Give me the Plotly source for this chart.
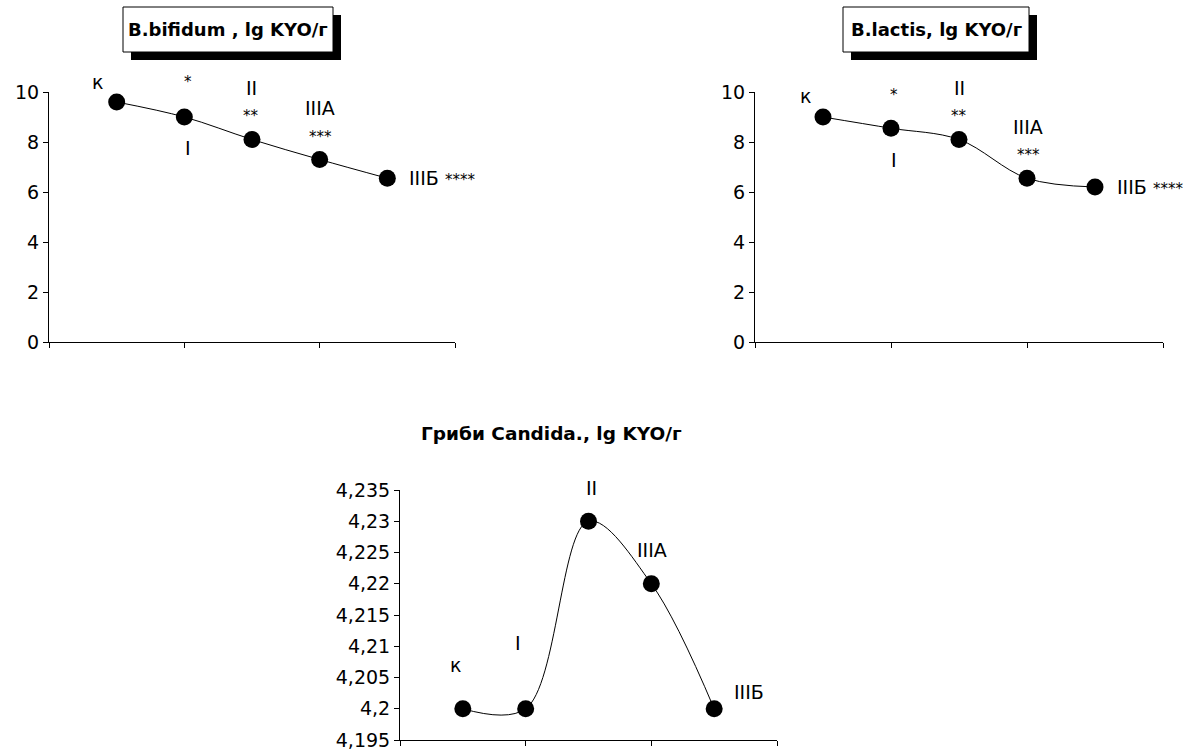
import plotly.graph_objects as go

W, H = 1188, 751

# ---- data ----
x_pos = [0.5, 1.0, 1.5, 2.0, 2.5]
groups = ["к", "I", "II", "IIIА", "IIIБ"]
bifidum = [9.6, 9.0, 8.1, 7.3, 6.55]
lactis = [9.0, 8.55, 8.1, 6.55, 6.2]
candida = [4.2, 4.2, 4.23, 4.22, 4.2]
y_ticks_b = [0, 2, 4, 6, 8, 10]
y_ticks_c = [4.195, 4.2, 4.205, 4.21, 4.215, 4.22, 4.225, 4.23, 4.235]
y_text_c = ["4,195", "4,2", "4,205", "4,21", "4,215", "4,22", "4,225", "4,23", "4,235"]

FONT = "DejaVu Sans, Arial, sans-serif"


def px(x):
    return x / W


def py(y):
    return 1 - y / H


fig = go.Figure()
for i, (vals, xa, ya) in enumerate([(bifidum, "x", "y"), (lactis, "x2", "y2"), (candida, "x3", "y3")]):
    fig.add_trace(go.Scatter(
        x=x_pos, y=vals, xaxis=xa, yaxis=ya, mode="lines+markers",
        line=dict(color="black", width=1, shape="spline", smoothing=1),
        marker=dict(color="black", size=17), cliponaxis=False, showlegend=False))

ax_common = dict(range=[0, 3], tickvals=[0, 1, 2, 3], showticklabels=False, ticks="outside",
                 ticklen=5, tickcolor="black", showline=True, linecolor="black", linewidth=1,
                 showgrid=False, zeroline=False, fixedrange=True, automargin=False)
ay_common = dict(ticks="outside", ticklen=5, tickcolor="black", showline=True, linecolor="black",
                 linewidth=1, showgrid=False, zeroline=False, automargin=False,
                 tickfont=dict(family=FONT, size=19, color="black"))

fig.update_layout(
    width=W, height=H, autosize=False, margin=dict(l=0, r=0, t=0, b=0, pad=0),
    paper_bgcolor="white", plot_bgcolor="white", showlegend=False,
    font=dict(family=FONT, color="black"),
    xaxis=dict(domain=[px(49), px(455)], anchor="y", **ax_common),
    yaxis=dict(domain=[py(342), py(92)], anchor="x", range=[0, 10], tickvals=y_ticks_b, **ay_common),
    xaxis2=dict(domain=[px(755), px(1163)], anchor="y2", **ax_common),
    yaxis2=dict(domain=[py(342), py(92)], anchor="x2", range=[0, 10], tickvals=y_ticks_b, **ay_common),
    xaxis3=dict(domain=[px(400), px(777)], anchor="y3", **ax_common),
    yaxis3=dict(domain=[py(740), py(490)], anchor="x3", range=[4.195, 4.235], tickvals=y_ticks_c,
                ticktext=y_text_c, **ay_common),
)

# title boxes with shadow
shapes = []
for (x0, y0, x1, y1) in [(123, 7, 333, 52), (843, 7, 1029, 52)]:
    shapes.append(dict(type="rect", xref="paper", yref="paper", x0=px(x0 + 8), x1=px(x1 + 8),
                       y0=py(y0 + 8), y1=py(y1 + 8), fillcolor="black", line=dict(width=0)))
    shapes.append(dict(type="rect", xref="paper", yref="paper", x0=px(x0), x1=px(x1),
                       y0=py(y0), y1=py(y1), fillcolor="white", line=dict(color="black", width=1)))
fig.update_layout(shapes=shapes)

ann = []


def label(text, x, y, size=19, bold=False, xanchor="center"):
    ann.append(dict(text=("<b>%s</b>" % text) if bold else text, x=px(x), y=py(y), xref="paper",
                    yref="paper", showarrow=False, xanchor=xanchor, yanchor="middle",
                    font=dict(family=FONT, size=size, color="black")))


label("B.bifidum , lg KYO/г", 228, 30, size=18, bold=True)
label("B.lactis, lg KYO/г", 936, 30, size=18, bold=True)
label("Гриби Candida., lg KYO/г", 551, 433, size=18.5, bold=True)

STARS4 = " <span style='font-size:15px'>****</span>"

# chart 1 labels
label(groups[0], 97, 82)
label("*", 188, 82, size=15)
label(groups[1], 188, 148)
label(groups[2], 251, 88)
label("**", 251, 116, size=15)
label(groups[3], 320, 108)
label("***", 320, 137, size=15)
label(groups[4] + STARS4, 407, 178, xanchor="left")

# chart 2 labels
label(groups[0], 805, 96)
label("*", 894, 95, size=15)
label(groups[1], 894, 160)
label(groups[2], 959, 88)
label("**", 959, 116, size=15)
label(groups[3], 1028, 127)
label("***", 1028, 155, size=15)
label(groups[4] + STARS4, 1115, 187, xanchor="left")

# chart 3 labels
label(groups[0], 455, 665)
label(groups[1], 518, 643)
label(groups[2], 591, 488)
label(groups[3], 652, 550)
label(groups[4], 749, 692)

fig.update_layout(annotations=ann)
fig.write_html("out.html", config={"displayModeBar": False},
               post_script="document.body.style.margin='0';document.body.style.padding='0';")
